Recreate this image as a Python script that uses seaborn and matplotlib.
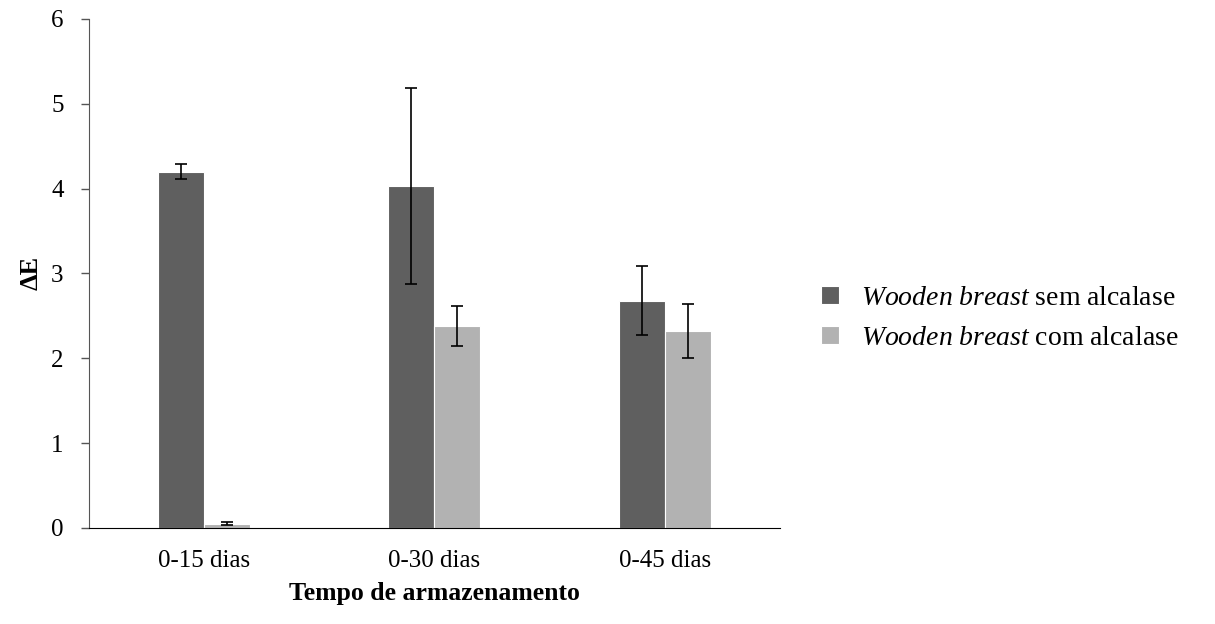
import matplotlib
matplotlib.use('Agg')
import matplotlib.pyplot as plt
import pandas as pd
import seaborn as sns

# values
periodos = ['0-15 dias', '0-30 dias', '0-45 dias']
sem_alcalase = [4.20, 4.03, 2.68]
sem_alcalase_dp = [0.09, 1.16, 0.41]
com_alcalase = [0.05, 2.38, 2.32]
com_alcalase_dp = [0.02, 0.24, 0.32]
tratamentos = [r'$\mathit{Wooden\ breast}$ sem alcalase',
               r'$\mathit{Wooden\ breast}$ com alcalase']
cores = ['#5f5f5f', '#b2b2b2']

sns.set_style('white')
plt.rcParams['font.family'] = ['Liberation Serif', 'DejaVu Serif']
plt.rcParams['mathtext.fontset'] = 'custom'
plt.rcParams['mathtext.it'] = 'Liberation Serif:italic'
plt.rcParams['mathtext.rm'] = 'Liberation Serif'
plt.rcParams['text.color'] = 'black'
plt.rcParams['axes.labelcolor'] = 'black'

df = pd.DataFrame({
    'periodo': periodos * 2,
    'tratamento': [tratamentos[0]] * 3 + [tratamentos[1]] * 3,
    'dE': sem_alcalase + com_alcalase,
    'dp': sem_alcalase_dp + com_alcalase_dp,
})

fig = plt.figure(figsize=(12.15, 6.24), dpi=100)
ax = fig.add_axes([0.073, 0.154, 0.569, 0.8157])

sns.barplot(data=df, x='periodo', y='dE', hue='tratamento', palette=cores,
            width=0.4, errorbar=None, edgecolor='white', linewidth=0.8,
            saturation=1, ax=ax)

# error bars on top of each bar (patches come in hue order)
for bar, (_, row) in zip(ax.patches, df.iterrows()):
    ax.errorbar(bar.get_x() + bar.get_width() / 2, bar.get_height(), yerr=row.dp,
                fmt='none', ecolor='black', elinewidth=1.2, capsize=4.5, capthick=1.2)

ax.set_ylim(0, 6)
ax.set_xlim(-0.5, 2.5)
ax.set_yticks(range(7))
sns.despine(ax=ax)
ax.spines['left'].set_color('#555555')
ax.spines['bottom'].set_color('black')
ax.tick_params(axis='y', length=6, width=1, color='#555555', labelcolor='black',
               direction='out', left=True, labelsize=18, pad=12)
ax.tick_params(axis='x', length=0, labelsize=18, labelcolor='black', pad=16)
ax.set_ylabel('ΔE', fontsize=19, fontweight='bold', labelpad=6)
ax.set_xlabel('Tempo de armazenamento', fontsize=18.5, fontweight='bold', labelpad=7)

handles, labels = ax.get_legend_handles_labels()
ax.legend(handles, labels, loc='center left', bbox_to_anchor=(0.655, 0.49),
          bbox_transform=fig.transFigure, frameon=False, fontsize=20,
          handlelength=0.65, handleheight=0.65, handletextpad=0.8, labelspacing=0.55)

fig.savefig('out.png', dpi=100)
